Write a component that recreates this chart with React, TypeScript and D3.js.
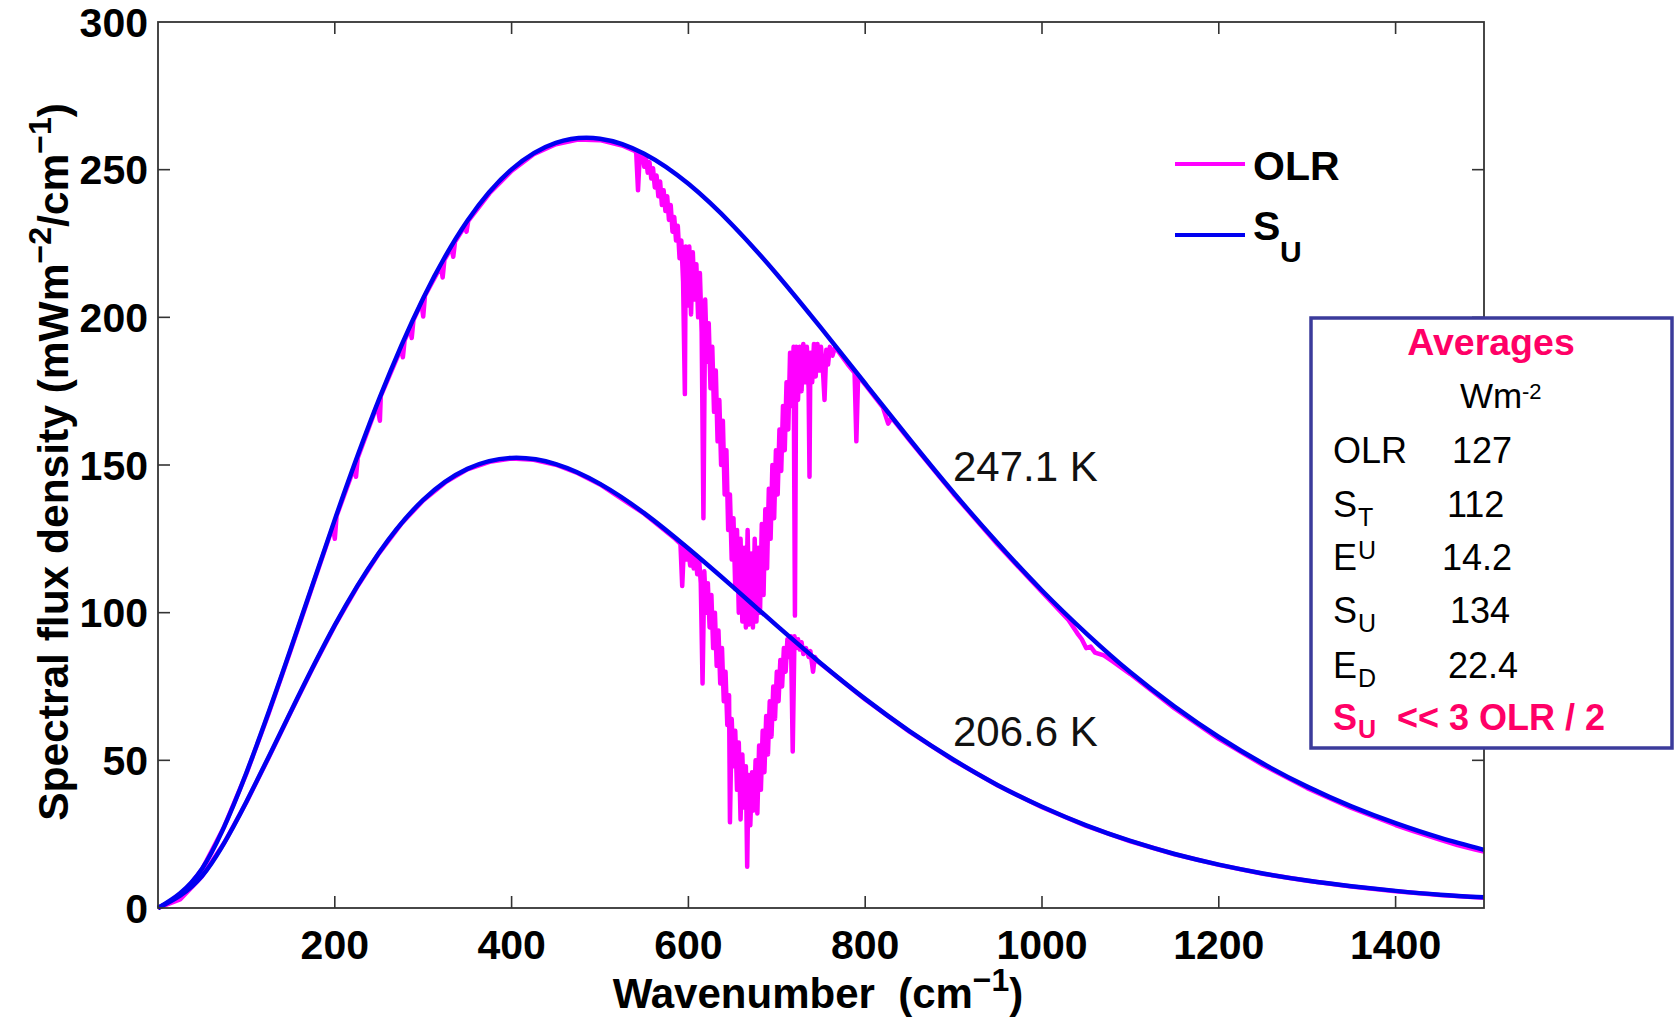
import React from 'react';
import * as d3 from 'd3';

// Wavenumber grid (cm^-1) for the two surface-emission (S_U) curves
const wavenumbers = [0, 50, 100, 150, 200, 250, 300, 350, 400, 450, 500, 550, 600, 650, 700, 750, 800, 850, 900, 950, 1000, 1050, 1100, 1150, 1200, 1250, 1300, 1350, 1400, 1450, 1500];
// S_U at 247.1 K  (mW m^-2 / cm^-1)
const su2471 = [0, 13.4, 45.8, 87.6, 131.5, 172.2, 206.5, 232.7, 250.1, 259.1, 260.5, 255.4, 245.2, 231.2, 214.6, 196.4, 177.6, 158.8, 140.6, 123.5, 107.5, 93.0, 79.8, 68.2, 57.9, 48.9, 41.1, 34.4, 28.7, 23.8, 19.7];
// S_U at 206.6 K
const su2066 = [0, 10.9, 36.0, 66.4, 95.8, 120.3, 138.2, 148.7, 152.4, 150.3, 143.6, 133.7, 121.7, 108.8, 95.6, 82.8, 70.8, 59.9, 50.2, 41.6, 34.3, 28.0, 22.7, 18.3, 14.7, 11.7, 9.3, 7.4, 5.8, 4.5, 3.6];

// OLR spectrum for the warm (247.1 K) case: [wavenumber, flux]
const olrWarm: [number, number][] = [
  [0, 0], [25, 3.5], [50, 13.2], [75, 27.6], [100, 45.5], [125, 65.7], [150, 87.2], [175, 109.2],
  [198, 129.3], [200, 125], [202, 132.7], [222, 149.2], [224, 146], [226, 152.5], [248, 170.3], [251, 165], [252, 173.3],
  [275, 189.5], [277, 186.5], [279, 192.2], [285, 196.4], [287, 193], [289, 199.1], [298, 204.9], [300, 200.3], [302, 207.3],
  [320, 217.3], [322, 213.5], [324, 219.5], [332, 223.6], [334, 220.5], [336, 225.6], [347, 230.8], [349, 229], [351, 232.7],
  [375, 242.0], [400, 249.6], [425, 255.2], [450, 258.6], [475, 260.2], [500, 260.0], [525, 258.2], [540, 256.3],
  [541, 255.5], [543, 243], [545, 255.2], [548, 255.5], [550, 251], [552, 254], [554, 249], [556, 252.5], [558, 247],
  [560, 250.5], [562, 244], [564, 248], [566, 241], [568, 246], [570, 238], [572, 243], [574, 236], [576, 241], [578, 233],
  [580, 238], [582, 229], [584, 234], [586, 226], [588, 231], [590, 220], [592, 226], [594, 212], [596, 174], [597, 224],
  [599, 204], [601, 224], [603, 201], [605, 222], [607, 206], [609, 218], [611, 200], [613, 215], [615, 195], [617, 132],
  [619, 206], [621, 185], [623, 198], [625, 176], [627, 190], [629, 168], [631, 182], [633, 158], [635, 172], [637, 150],
  [639, 165], [641, 140], [643, 155], [645, 128], [647, 140], [649, 118], [651, 132], [653, 108], [655, 128], [657, 100],
  [659, 125], [661, 97], [663, 122], [665, 95], [667, 128], [669, 96], [671, 120], [673, 95], [675, 125], [677, 97],
  [679, 122], [681, 100], [683, 130], [685, 106], [687, 135], [689, 115], [691, 142], [693, 125], [695, 150], [697, 132],
  [699, 155], [701, 140], [703, 162], [705, 148], [707, 170], [709, 155], [711, 178], [713, 162], [715, 188], [717, 170],
  [719, 190], [720.5, 99], [722, 190], [724, 172], [726, 190], [728, 175], [730, 191], [732, 178], [734, 190], [736, 176],
  [737, 146], [738, 188], [740, 178], [742, 191], [744, 180], [746, 191], [748, 182], [750, 190], [752, 183], [754, 172],
  [756, 189], [758, 184], [760, 190], [763, 187], [766, 190], [770, 188.3], [780, 184.2], [788, 181.2],
  [790, 158], [792, 180.2], [800, 177.2], [820, 169.5], [826, 164], [830, 166], [850, 158.4], [900, 140.2], [950, 123],
  [1000, 107], [1030, 97.5], [1040, 93], [1045, 91], [1050, 88], [1055, 88.5], [1060, 86.5], [1070, 85.5], [1080, 83.5],
  [1100, 79.2], [1150, 67.6], [1200, 57.3], [1250, 48.4], [1300, 40.6], [1350, 33.9], [1400, 28.1], [1420, 26.0],
  [1450, 23.2], [1470, 21.3], [1490, 19.8], [1500, 19.1],
];

// OLR spectrum for the cool (206.6 K) case
const olrCool: [number, number][] = [
  [0, 0], [25, 2.9], [50, 10.8], [75, 22.1], [100, 35.8], [125, 50.8], [150, 66.2], [175, 81.3], [200, 95.6], [225, 108.6],
  [250, 120.1], [275, 130.0], [300, 138.0], [325, 144.1], [350, 148.5], [375, 151.1], [400, 152.2], [425, 151.8], [450, 150.1],
  [475, 147.2], [500, 143.4], [550, 133.5], [585, 125.0], [591, 123.3], [593, 109], [595, 122.8], [596, 122.5], [598, 118],
  [600, 121.5], [602, 116], [604, 120], [606, 115], [608, 119.5], [610, 113], [612, 118.5], [614, 110], [616, 76], [618, 114],
  [620, 100], [622, 110], [624, 95], [626, 106], [628, 88], [630, 100], [632, 82], [634, 94], [636, 76], [638, 88], [640, 70],
  [642, 80], [644, 62], [646, 72], [647, 29], [649, 64], [651, 48], [653, 60], [655, 40], [657, 56], [659, 30], [661, 52],
  [663, 34], [665, 48], [666.5, 14], [668, 45], [670, 28], [672, 46], [674, 33], [676, 50], [678, 32], [680, 55], [682, 40],
  [684, 60], [686, 46], [688, 65], [690, 52], [692, 70], [694, 58], [696, 75], [698, 64], [700, 80], [702, 70], [704, 84],
  [706, 75], [708, 88], [710, 80], [712, 91], [714, 85], [716, 92], [718, 53], [720, 92], [722, 88], [724, 91], [726, 87.5],
  [728, 90], [730, 86], [733, 88], [736, 85], [738, 87], [741, 80], [743, 85], [746, 83.5], [750, 82.6], [800, 70.6],
  [850, 59.7], [900, 50.0], [950, 41.5], [1000, 34.1], [1050, 27.8], [1100, 22.6], [1150, 18.2], [1200, 14.6], [1250, 11.6],
  [1300, 9.2], [1350, 7.3], [1400, 5.7], [1450, 4.4], [1500, 3.5],
];

const xTicks = [200, 400, 600, 800, 1000, 1200, 1400];
const yTicks = [0, 50, 100, 150, 200, 250, 300];
const tempLabels = ['247.1 K', '206.6 K'];
const averageRows = [
  { main: 'OLR', sub: '', sup: '', value: '127' },
  { main: 'S', sub: 'T', sup: '', value: '112' },
  { main: 'E', sub: '', sup: 'U', value: '14.2' },
  { main: 'S', sub: 'U', sup: '', value: '134' },
  { main: 'E', sub: 'D', sup: '', value: '22.4' },
];

const FONT = '"Liberation Sans", Arial, Helvetica, sans-serif';
const BLUE = '#0000f0';
const MAGENTA = '#ff00ff';
const PINK = '#ff0066';
const AXIS = '#333333';

export default function App() {
  const W = 1675;
  const H = 1021;
  const left = 158, right = 1484, top = 22, bottom = 908;

  const x = d3.scaleLinear().domain([0, 1500]).range([left, right]);
  const y = d3.scaleLinear().domain([0, 300]).range([bottom, top]);

  const smooth = d3
    .line<number>()
    .x((_, i) => x(wavenumbers[i]))
    .y((d) => y(d))
    .curve(d3.curveNatural);
  const jag = d3
    .line<[number, number]>()
    .x((d) => x(d[0]))
    .y((d) => y(d[1]));

  const tickLen = 12;
  const valueX = [1452, 1447, 1442, 1450, 1448];
  const rowBase = [463, 517, 570, 623, 678];

  return (
    <svg
      width={W}
      height={H}
      viewBox={`0 0 ${W} ${H}`}
      style={{ position: 'absolute', left: 0, top: 0, background: '#fff' }}
      fontFamily={FONT}
    >
      <rect x={0} y={0} width={W} height={H} fill="#fff" />

      {/* curves */}
      <path d={jag(olrWarm) || ''} fill="none" stroke={MAGENTA} strokeWidth={4.5} strokeLinejoin="round" />
      <path d={jag(olrCool) || ''} fill="none" stroke={MAGENTA} strokeWidth={4.5} strokeLinejoin="round" />
      <path d={smooth(su2471) || ''} fill="none" stroke={BLUE} strokeWidth={4.5} />
      <path d={smooth(su2066) || ''} fill="none" stroke={BLUE} strokeWidth={4.5} />

      {/* axes frame */}
      <rect x={left} y={top} width={right - left} height={bottom - top} fill="none" stroke={AXIS} strokeWidth={1.8} />
      {xTicks.map((t) => (
        <g key={'xt' + t}>
          <line x1={x(t)} x2={x(t)} y1={bottom} y2={bottom - tickLen} stroke={AXIS} strokeWidth={1.6} />
          <line x1={x(t)} x2={x(t)} y1={top} y2={top + tickLen} stroke={AXIS} strokeWidth={1.6} />
          <text x={x(t)} y={959} textAnchor="middle" fontSize={41} fontWeight="bold" fill="#000">
            {t}
          </text>
        </g>
      ))}
      {yTicks.map((t) => (
        <g key={'yt' + t}>
          {t > 0 && t < 300 && (
            <>
              <line x1={left} x2={left + tickLen} y1={y(t)} y2={y(t)} stroke={AXIS} strokeWidth={1.6} />
              <line x1={right} x2={right - tickLen} y1={y(t)} y2={y(t)} stroke={AXIS} strokeWidth={1.6} />
            </>
          )}
          <text x={148} y={y(t)} dy="0.36em" textAnchor="end" fontSize={41} fontWeight="bold" fill="#000">
            {t}
          </text>
        </g>
      ))}

      {/* axis titles */}
      <text
        x={818}
        y={1008}
        textAnchor="middle"
        fontSize={42}
        fontWeight="bold"
        fill="#000"
        xmlSpace="preserve"
        style={{ whiteSpace: 'pre' }}
      >
        <tspan>{'Wavenumber  (cm'}</tspan>
        <tspan fontSize={32} dy={-17}>−1</tspan>
        <tspan dy={17}>)</tspan>
      </text>
      <text
        transform="translate(68,462) rotate(-90)"
        textAnchor="middle"
        fontSize={42.5}
        fontWeight="bold"
        fill="#000"
      >
        <tspan>Spectral flux density (mWm</tspan>
        <tspan fontSize={32} dy={-17}>−2</tspan>
        <tspan dy={17}>/cm</tspan>
        <tspan fontSize={32} dy={-17}>−1</tspan>
        <tspan dy={17}>)</tspan>
      </text>

      {/* temperature labels */}
      <text x={953} y={481} fontSize={42} fill="#111">{tempLabels[0]}</text>
      <text x={953} y={746} fontSize={42} fill="#111">{tempLabels[1]}</text>

      {/* legend */}
      <line x1={1175} x2={1245} y1={164} y2={164} stroke={MAGENTA} strokeWidth={4} />
      <text x={1253} y={180} fontSize={41} fontWeight="bold" fill="#000">OLR</text>
      <line x1={1175} x2={1245} y1={235} y2={235} stroke={BLUE} strokeWidth={4} />
      <text x={1253} y={240} fontSize={41} fontWeight="bold" fill="#000">S</text>
      <text x={1280} y={262} fontSize={30} fontWeight="bold" fill="#000">U</text>

      {/* averages box */}
      <rect x={1311} y={318} width={361} height={430} fill="#fff" stroke="#3b3b9b" strokeWidth={3.5} />
      <text x={1491} y={355} textAnchor="middle" fontSize={37.5} fontWeight="bold" fill={PINK}>Averages</text>
      <text x={1460} y={408} fontSize={35} fill="#000">Wm</text>
      <text x={1522} y={399} fontSize={22} fill="#000">-2</text>
      {averageRows.map((r, i) => (
        <g key={'row' + i}>
          <text x={1333} y={rowBase[i]} fontSize={36} fill="#000">{r.main}</text>
          {r.sub && (
            <text x={1358} y={rowBase[i] + 9} fontSize={25} fill="#000">{r.sub}</text>
          )}
          {r.sup && (
            <text x={1358} y={rowBase[i] - 11} fontSize={25} fill="#000">{r.sup}</text>
          )}
          <text x={valueX[i]} y={rowBase[i]} fontSize={36} fill="#000">{r.value}</text>
        </g>
      ))}
      <text x={1333} y={730} fontSize={36} fontWeight="bold" fill={PINK}>S</text>
      <text x={1358} y={738} fontSize={25} fontWeight="bold" fill={PINK}>U</text>
      <text x={1397} y={730} fontSize={36} fontWeight="bold" fill={PINK}>{'<< 3 OLR / 2'}</text>
    </svg>
  );
}
